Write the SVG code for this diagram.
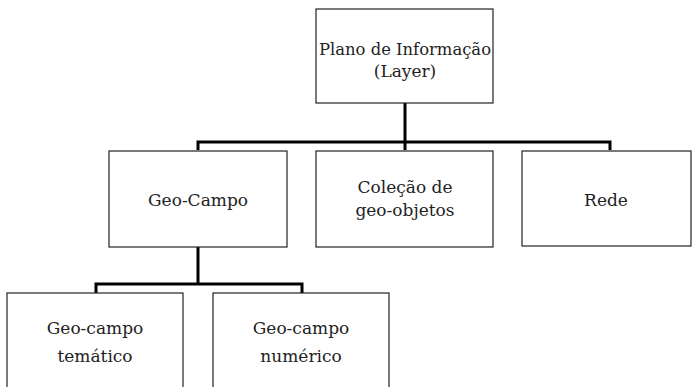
<svg xmlns="http://www.w3.org/2000/svg" width="692" height="387" viewBox="0 0 692 387">
<style>
.box{fill:#fff;stroke:#222;stroke-width:1.2}
.t{font-family:'DejaVu Serif',serif;font-size:17px;fill:#222;text-anchor:middle}
.c{fill:none;stroke:#000;stroke-width:3;stroke-linejoin:miter}
</style>
<rect width="692" height="387" fill="#fff"/>
<g id="connectors">
<path class="c" d="M405,103 V142 M198,150 V142 H610 V150 M405,142 V150"/>
<path class="c" d="M198,247 V284 M96,293 V284 H302 V293"/>
</g>
<g id="layer"><rect class="box" x="316" y="9" width="177" height="94"/>
<text class="t" x="405" y="55" style="font-size:16.4px">Plano de Informação</text><text class="t" x="405" y="77">(Layer)</text></g>
<g id="geocampo"><rect class="box" x="109" y="151" width="178" height="96"/>
<text class="t" x="198" y="206">Geo-Campo</text></g>
<g id="colecao"><rect class="box" x="316" y="151" width="177" height="96"/>
<text class="t" x="405" y="193">Coleção de</text><text class="t" x="405" y="216">geo-objetos</text></g>
<g id="rede"><rect class="box" x="522" y="151" width="169" height="95"/>
<text class="t" x="606" y="206">Rede</text></g>
<g id="tematico"><rect class="box" x="7" y="293" width="176" height="100"/>
<text class="t" x="95" y="334">Geo-campo</text><text class="t" x="95" y="362">temático</text></g>
<g id="numerico"><rect class="box" x="213" y="293" width="176" height="100"/>
<text class="t" x="301" y="334">Geo-campo</text><text class="t" x="301" y="362">numérico</text></g>
</svg>
